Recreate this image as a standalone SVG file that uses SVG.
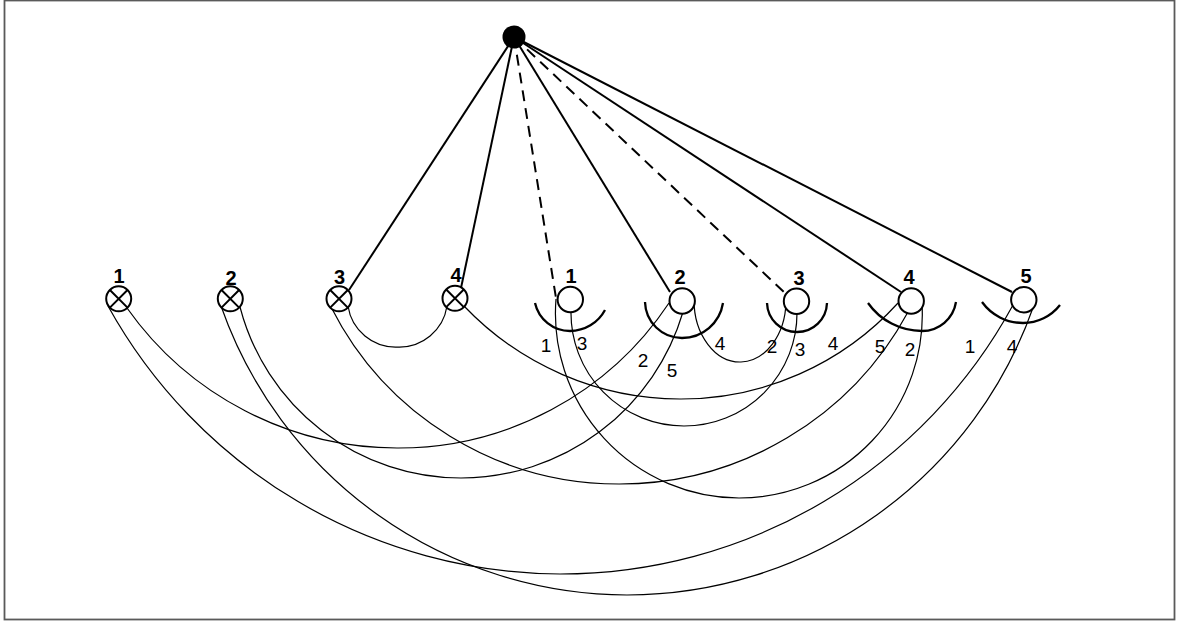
<svg xmlns="http://www.w3.org/2000/svg" width="1177" height="623" viewBox="0 0 1177 623">
<style>
.frame{fill:#fff;stroke:#5a5a5a;stroke-width:1.8}
.bus{stroke:#000;stroke-width:2;fill:none}
.dash{stroke:#000;stroke-width:2;fill:none;stroke-dasharray:11 7}
.wire{stroke:#000;stroke-width:1.2;fill:none}
.ring{fill:#fff;stroke:#000;stroke-width:2}
.x{stroke:#000;stroke-width:2}
.cup{fill:none;stroke:#000;stroke-width:2.3}
.num{font-family:"Liberation Sans",Arial,sans-serif;font-size:20px;font-weight:bold;text-anchor:middle;fill:#000}
.lab{font-family:"Liberation Sans",Arial,sans-serif;font-size:19px;text-anchor:middle;fill:#000}
</style>
<rect class="frame" x="4.5" y="0.5" width="1170" height="619"/>
<g id="connectors">
<line class="bus" x1="514" y1="37" x2="349" y2="290"/>
<line class="bus" x1="514" y1="37" x2="461" y2="288"/>
<line class="dash" x1="514" y1="37" x2="556" y2="298"/>
<line class="bus" x1="514" y1="37" x2="670" y2="292"/>
<line class="dash" x1="514" y1="37" x2="786" y2="294"/>
<line class="bus" x1="514" y1="37" x2="901" y2="292"/>
<line class="bus" x1="514" y1="37" x2="1012" y2="292"/>
<path class="wire" d="M127,308 A331.7,331.7 0 0 0 397,448 A325.1,325.1 0 0 0 669,303"/>
<path class="wire" d="M108,306 A519.7,519.7 0 0 0 560,574 A515.2,515.2 0 0 0 1013,305"/>
<path class="wire" d="M221,306 A431.6,431.6 0 0 0 627,595 A431.3,431.3 0 0 0 1034,305"/>
<path class="wire" d="M240,307 A228.6,228.6 0 0 0 461,478 A231.8,231.8 0 0 0 683,312"/>
<path class="wire" d="M331,307 A322.8,322.8 0 0 0 619,484 A328,328 0 0 0 908,312"/>
<path class="wire" d="M464,306 A299.6,299.6 0 0 0 680,399 A293.3,293.3 0 0 0 898,303"/>
<path class="wire" d="M348,306 A48.2,48.2 0 0 0 397.5,347 A48.2,48.2 0 0 0 447,306"/>
<path class="wire" d="M571,311 A113,113 0 0 0 684,426 A113,113 0 0 0 797,312"/>
<path class="wire" d="M694,300 A46,62 0 0 0 741,362 A46,62 0 0 0 786,302"/>
<path class="wire" d="M556,299 A184.5,184.5 0 0 0 739,498 A183.3,183.3 0 0 0 922,304"/>
</g>
<g id="hub">
<circle cx="514" cy="37" r="11.5" fill="#000"/>
</g>
<g id="lamp1">
<circle class="ring" cx="118.7" cy="298.8" r="12.5"/>
<path class="x" d="M109.9,290 L127.5,307.6 M127.5,290 L109.9,307.6"/>
<text class="num" x="119" y="283">1</text>
</g>
<g id="lamp2">
<circle class="ring" cx="230.3" cy="298.8" r="12.5"/>
<path class="x" d="M221.5,290 L239.1,307.6 M239.1,290 L221.5,307.6"/>
<text class="num" x="231" y="285">2</text>
</g>
<g id="lamp3">
<circle class="ring" cx="339" cy="298.8" r="12.5"/>
<path class="x" d="M330.2,290 L347.8,307.6 M347.8,290 L330.2,307.6"/>
<text class="num" x="339.5" y="284">3</text>
</g>
<g id="lamp4">
<circle class="ring" cx="455" cy="298.3" r="12.5"/>
<path class="x" d="M446.2,289.5 L463.8,307.1 M463.8,289.5 L446.2,307.1"/>
<text class="num" x="456" y="282">4</text>
</g>
<g id="switch1">
<path class="cup" d="M535,303 A35.9,35.9 0 0 0 570,331 A39.7,39.7 0 0 0 605,310"/>
<circle class="ring" cx="570.3" cy="299.5" r="12.7"/>
<text class="num" x="571" y="283">1</text>
<text class="lab" x="546" y="352">1</text>
<text class="lab" x="582" y="350">3</text>
</g>
<g id="switch2">
<path class="cup" d="M645,302 A37,37 0 0 0 682,338 A41.5,41.5 0 0 0 723,303"/>
<circle class="ring" cx="682.2" cy="301" r="12.7"/>
<text class="num" x="680" y="284">2</text>
<text class="lab" x="643" y="367">2</text>
<text class="lab" x="672" y="377">5</text>
<text class="lab" x="720" y="350">4</text>
</g>
<g id="switch3">
<path class="cup" d="M767,303 A30,30 0 0 0 797,332 A30,30 0 0 0 827,303"/>
<circle class="ring" cx="796.5" cy="301.3" r="12.7"/>
<text class="num" x="799" y="285">3</text>
<text class="lab" x="772" y="353">2</text>
<text class="lab" x="800" y="356">3</text>
<text class="lab" x="833" y="350">4</text>
</g>
<g id="switch4">
<path class="cup" d="M868,303 A66,66 0 0 0 922,331 A34.4,34.4 0 0 0 956,302"/>
<circle class="ring" cx="911.2" cy="301" r="12.7"/>
<text class="num" x="909" y="284">4</text>
<text class="lab" x="880" y="353">5</text>
<text class="lab" x="910" y="356">2</text>
</g>
<g id="switch5">
<path class="cup" d="M982,302 A50.5,50.5 0 0 0 1023,323 A47,47 0 0 0 1060,305"/>
<circle class="ring" cx="1023.8" cy="299.7" r="12.7"/>
<text class="num" x="1026" y="283">5</text>
<text class="lab" x="970" y="353">1</text>
<text class="lab" x="1012" y="353">4</text>
</g>
</svg>
